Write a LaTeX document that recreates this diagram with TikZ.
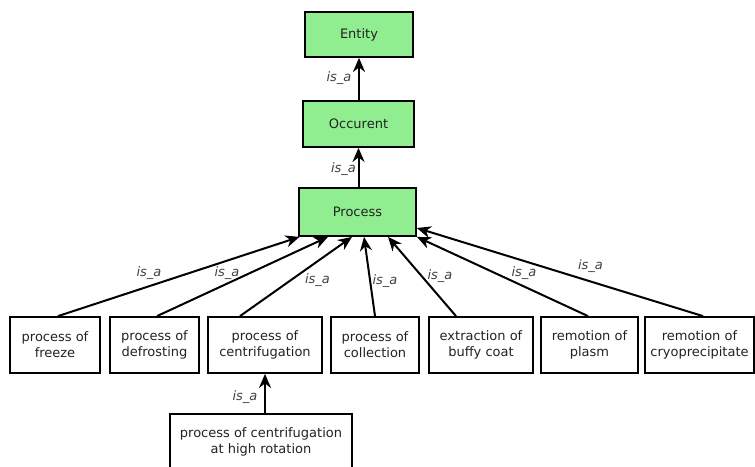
\documentclass[tikz,border=0pt]{standalone}
\usepackage{fontspec}
\setmainfont{DejaVu Sans}
\usetikzlibrary{arrows.meta}
\definecolor{boxgreen}{RGB}{144,238,144}
\definecolor{txt}{RGB}{34,34,34}
\tikzset{
  box/.style={draw=black, line width=1.8pt, inner sep=0pt, align=center, text=txt,
    font=\fontsize{13}{16}\selectfont},
  gbox/.style={box, fill=boxgreen},
  lbl/.style={font=\fontsize{13}{16}\selectfont\itshape, text=black!75, inner sep=0pt},
  isa/.style={draw=black, line width=2pt, -{Stealth[length=14pt,width=12pt,inset=4.5pt]}}
}
\begin{document}
\begin{tikzpicture}[x=1pt,y=-1pt]
\useasboundingbox (0,0) rectangle (755,466);
\node[gbox, minimum width=108pt, minimum height=45pt] (ent) at (359,34.5) {Entity};
\node[gbox, minimum width=111pt, minimum height=46pt] (occ) at (358.5,124) {Occurent};
\node[gbox, minimum width=117pt, minimum height=48pt] (proc) at (357.5,212) {Process};

\node[box, minimum width=90pt, minimum height=56pt] (f1) at (55,345) {process of\\freeze};
\node[box, minimum width=89pt, minimum height=56pt] (f2) at (154.5,345) {process of\\defrosting};
\node[box, minimum width=114pt, minimum height=56pt] (f3) at (265,345) {process of\\centrifugation};
\node[box, minimum width=88pt, minimum height=56pt] (f4) at (375,345) {process of\\collection};
\node[box, minimum width=104pt, minimum height=56pt] (f5) at (481,345) {extraction of\\buffy coat};
\node[box, minimum width=97pt, minimum height=56pt] (f6) at (589.5,345) {remotion of\\plasm};
\node[box, minimum width=109pt, minimum height=56pt] (f7) at (699.5,345) {remotion of\\cryoprecipitate};
\node[box, minimum width=182pt, minimum height=56pt] (hr) at (261,442) {process of centrifugation\\at high rotation};

\draw[isa] (ent.south |- occ.north) -- (ent.south);
\draw[isa] (occ.south |- proc.north) -- (occ.south);
\draw[isa] ([xshift=3pt]f1.north) -- ([xshift=-58pt]proc.south);
\draw[isa] ([xshift=2.5pt]f2.north) -- ([xshift=-29.5pt]proc.south);
\draw[isa] ([xshift=-25pt]f3.north) -- ([xshift=-5.5pt]proc.south);
\draw[isa] (f4.north) -- ([xshift=6.5pt]proc.south);
\draw[isa] ([xshift=-25pt]f5.north) -- ([xshift=30.5pt]proc.south);
\draw[isa] ([xshift=-1.5pt]f6.north) -- (proc.south east);
\draw[isa] ([xshift=3.5pt]f7.north) -- ([yshift=-16pt]proc.east);
\draw[isa] (f3.south |- hr.north) -- (f3.south);

\node[lbl] at (339,78) {is\_a};
\node[lbl] at (343.5,169) {is\_a};
\node[lbl] at (149,273) {is\_a};
\node[lbl] at (227,273) {is\_a};
\node[lbl] at (317.5,280) {is\_a};
\node[lbl] at (385,281) {is\_a};
\node[lbl] at (440,276) {is\_a};
\node[lbl] at (524,273) {is\_a};
\node[lbl] at (590.5,266) {is\_a};
\node[lbl] at (245,397) {is\_a};
\end{tikzpicture}
\end{document}
